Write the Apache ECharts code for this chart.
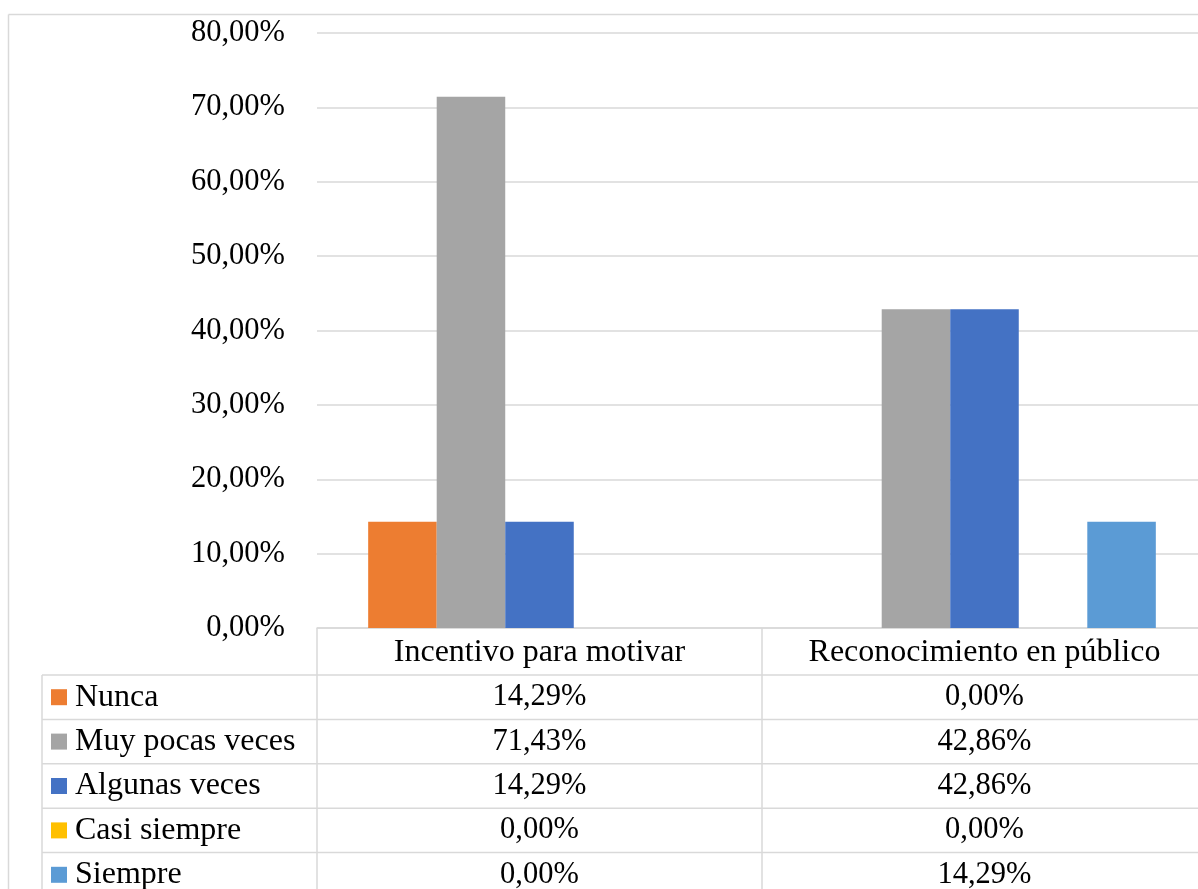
<!DOCTYPE html>
<html>
<head>
<meta charset="utf-8">
<script src="https://cdn.jsdelivr.net/npm/echarts@6/dist/echarts.min.js"></script>
<style>
  body { margin: 0; background: #fff; }
  #chart { width: 1198px; height: 889px; }
</style>
</head>
<body>
<div id="chart"></div>
<script>
var categories = ["Incentivo para motivar", "Reconocimiento en público"];
var seriesNames = ["Nunca", "Muy pocas veces", "Algunas veces", "Casi siempre", "Siempre"];
var nunca = [14.29, 0];
var muyPocas = [71.43, 42.86];
var algunas = [14.29, 42.86];
var casiSiempre = [0, 0];
var siempre = [0, 14.29];
var colors = ["#ED7D31", "#A5A5A5", "#4472C4", "#FFC000", "#5B9BD5"];

var seriesValues = [nunca, muyPocas, algunas, casiSiempre, siempre];
var font = "'Liberation Serif', 'Times New Roman', serif";
var lineColor = "#d9d9d9";

function pct(v) {
  return v.toFixed(2).replace(".", ",") + "%";
}

var chartDom = document.getElementById("chart");
var myChart = echarts.init(chartDom);

var option = {
  animation: false,
  // plot runs past the right edge of the picture (cropped in the original)
  grid: { left: 317, width: 890, top: 33, height: 595, containLabel: false, outerBoundsMode: "none" },
  xAxis: {
    type: "category",
    data: categories,
    axisLine: { show: true, lineStyle: { color: lineColor, width: 1.5 } },
    axisTick: { show: false },
    axisLabel: { interval: 0, hideOverlap: false, color: "#000", fontFamily: font, fontSize: 32, margin: 9 },
  },
  yAxis: {
    type: "value",
    min: 0,
    max: 80,
    interval: 10,
    axisLine: { show: false },
    axisTick: { show: false },
    splitLine: { lineStyle: { color: lineColor, width: 1.5 } },
    axisLabel: {
      color: "#000",
      fontFamily: font,
      fontSize: 30.5,
      margin: 32,
      formatter: function (v) { return pct(v); },
    },
  },
  series: seriesNames.map(function (name, i) {
    return {
      name: name,
      type: "bar",
      data: seriesValues[i],
      barGap: "0%",
      barCategoryGap: "23%",
      itemStyle: { color: colors[i] },
    };
  }),
};
myChart.setOption(option);

// data table under the plot
var axisY = myChart.convertToPixel({ yAxisIndex: 0 }, 0);
var leftX = myChart.convertToPixel({ xAxisIndex: 0 }, 0);
var catW = myChart.convertToPixel({ xAxisIndex: 0 }, 1) - leftX;
var plotLeft = leftX - catW / 2;
var tableLeft = 42;
var headerH = 47;
var rowH = 44.4;
var bottom = 889;
var right = 1198;

var g = [];
function line(x1, y1, x2, y2) {
  g.push({ type: "line", shape: { x1: x1, y1: y1, x2: x2, y2: y2 }, style: { stroke: lineColor, lineWidth: 1.5 } });
}

// outer chart border
line(8.5, 14.5, right, 14.5);
line(8.5, 14.5, 8.5, bottom);

// vertical table lines
line(tableLeft, axisY + headerH, tableLeft, bottom);
for (var c = 0; c <= categories.length; c++) {
  var vx = Math.round(plotLeft + c * catW);
  line(vx, axisY, vx, bottom);
}

seriesNames.forEach(function (name, i) {
  var top = axisY + headerH + i * rowH;
  var mid = top + rowH / 2;
  line(tableLeft, top, right, top);
  g.push({ type: "rect", shape: { x: 51, y: mid - 8, width: 16, height: 16 }, style: { fill: colors[i] } });
  g.push({
    type: "text", x: 75, y: mid,
    style: { text: name, fill: "#000", font: "32px " + font, textAlign: "left", textVerticalAlign: "middle" },
  });
  seriesValues[i].forEach(function (v, j) {
    g.push({
      type: "text", x: myChart.convertToPixel({ xAxisIndex: 0 }, j), y: mid,
      style: { text: pct(v), fill: "#000", font: "30.5px " + font, textAlign: "center", textVerticalAlign: "middle" },
    });
  });
});

myChart.setOption({ graphic: g });
</script>
</body>
</html>
